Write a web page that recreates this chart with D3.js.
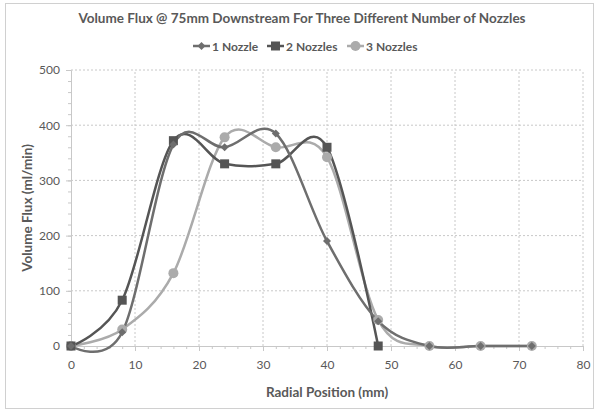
<!DOCTYPE html>
<html><head><meta charset="utf-8">
<script src="https://cdn.jsdelivr.net/npm/d3@7"></script>
<style>body{margin:0;background:#fff}svg{display:block}</style>
</head><body>
<svg id="c" width="594" height="411"></svg>
<script>
const title = "Volume Flux @ 75mm Downstream For Three Different Number of Nozzles";
const xLabel = "Radial Position (mm)";
const yLabel = "Volume Flux (ml/min)";
const seriesNames = ["1 Nozzle", "2 Nozzles", "3 Nozzles"];
const xPos1 = [0, 8, 16, 24, 32, 40, 48, 56, 64, 72];
const nozzle1 = [0, 25, 365, 360, 385, 190, 45, 0, 0, 0];
const xPos2 = [0, 8, 16, 24, 32, 40, 48];
const nozzle2 = [0, 83, 372, 330, 330, 360, 0];
const xPos3 = [0, 8, 16, 24, 32, 40, 48, 56, 64, 72];
const nozzle3 = [0, 30, 132, 378, 360, 342, 47, 0, 0, 0];
const xTicks = [0, 10, 20, 30, 40, 50, 60, 70, 80];
const yTicks = [0, 100, 200, 300, 400, 500];

const svg = d3.select("#c");
const W = 594, H = 411;
const m = {l: 71, r: 11, t: 70, b: 65};
const x = d3.scaleLinear().domain([0, 80]).range([m.l, W - m.r]);
const y = d3.scaleLinear().domain([0, 500]).range([H - m.b, m.t]);
const font = "Lato, 'Open Sans', sans-serif";

svg.append("rect").attr("x", 5.5).attr("y", 3.5).attr("width", W - 6).attr("height", H - 6)
  .attr("fill", "#fff").attr("stroke", "#d0d0d0");

// grid
const g = svg.append("g");
g.selectAll(".gy").data(yTicks.filter(d => d > 0)).join("line")
  .attr("x1", x(0)).attr("x2", x(80)).attr("y1", d => y(d)).attr("y2", d => y(d))
  .attr("stroke", "#c8c8c8").attr("stroke-dasharray", "2,2");
g.selectAll(".gx").data(xTicks.filter(d => d > 0)).join("line")
  .attr("x1", d => x(d)).attr("x2", d => x(d)).attr("y1", y(0)).attr("y2", y(500))
  .attr("stroke", "#c8c8c8").attr("stroke-dasharray", "2,2");

// axes
const xAxis = d3.axisBottom(x).tickValues(xTicks).tickSize(5).tickPadding(9);
const xa = svg.append("g").attr("transform", `translate(0,${y(0)})`).call(xAxis);
const xMinor = svg.append("g").attr("transform", `translate(0,${y(0)})`)
  .call(d3.axisBottom(x).tickValues(d3.range(0, 81, 2)).tickSize(3).tickFormat(""));
const ya = svg.append("g").attr("transform", `translate(${x(0)},0)`)
  .call(d3.axisLeft(y).tickValues(yTicks).tickSize(5).tickPadding(6));
const yMinor = svg.append("g").attr("transform", `translate(${x(0)},0)`)
  .call(d3.axisLeft(y).tickValues(d3.range(0, 501, 20)).tickSize(3).tickFormat(""));
[xa, xMinor, ya, yMinor].forEach(a => {
  a.selectAll("path,line").attr("stroke", "#c8c8c8");
  a.selectAll("text").attr("fill", "#595959").style("font-family", font).style("font-size", "12px");
});
xMinor.select("path").remove(); yMinor.select("path").remove();

// lines
const line = d3.line().x(d => x(d[0])).y(d => y(d[1])).curve(d3.curveCardinal.tension(0));
const series = [
  {name: seriesNames[0], xs: xPos1, vs: nozzle1, color: "#6e6e6e", marker: "diamond"},
  {name: seriesNames[1], xs: xPos2, vs: nozzle2, color: "#555555", marker: "square"},
  {name: seriesNames[2], xs: xPos3, vs: nozzle3, color: "#ababab", marker: "circle"}
];
function drawMarker(sel, type, color, cx, cy) {
  if (type === "square") sel.append("rect").attr("x", cx - 4.5).attr("y", cy - 4.5).attr("width", 9).attr("height", 9).attr("fill", color);
  else if (type === "circle") sel.append("circle").attr("cx", cx).attr("cy", cy).attr("r", 5).attr("fill", color);
  else sel.append("path").attr("d", `M${cx},${cy-4}L${cx+4},${cy}L${cx},${cy+4}L${cx-4},${cy}Z`).attr("fill", color);
}
const order = [2, 1, 0];
order.forEach(i => {
  const s = series[i];
  const pts = s.xs.map((xv, j) => [xv, s.vs[j]]);
  svg.append("path").attr("d", line(pts)).attr("fill", "none").attr("stroke", s.color).attr("stroke-width", 2.5);
});
order.forEach(i => {
  const s = series[i];
  const mg = svg.append("g");
  s.xs.forEach((xv, j) => drawMarker(mg, s.marker, s.color, x(xv), y(s.vs[j])));
});

// title
svg.append("text").attr("x", 302).attr("y", 23).attr("text-anchor", "middle")
  .attr("fill", "#595959").style("font-family", font).style("font-weight", "bold").style("font-size", "13.5px").text(title);

// legend
const legX = [193, 267, 347];
series.forEach((s, i) => {
  const lg = svg.append("g");
  const lx = legX[i], ly = 46;
  lg.append("line").attr("x1", lx).attr("x2", lx + 17).attr("y1", ly).attr("y2", ly).attr("stroke", s.color).attr("stroke-width", 2.5);
  drawMarker(lg, s.marker, s.color, lx + 8.5, ly);
  lg.append("text").attr("x", lx + 19).attr("y", ly + 4.5).attr("fill", "#595959")
    .style("font-family", font).style("font-weight", "bold").style("font-size", "12px").text(s.name);
});

// axis labels
svg.append("text").attr("x", 327).attr("y", 397).attr("text-anchor", "middle").attr("fill", "#595959")
  .style("font-family", font).style("font-weight", "bold").style("font-size", "13.5px").text(xLabel);
svg.append("text").attr("transform", `translate(32,${y(250)}) rotate(-90)`).attr("text-anchor", "middle").attr("fill", "#595959")
  .style("font-family", font).style("font-weight", "bold").style("font-size", "13.5px").text(yLabel);
</script>
</body></html>
